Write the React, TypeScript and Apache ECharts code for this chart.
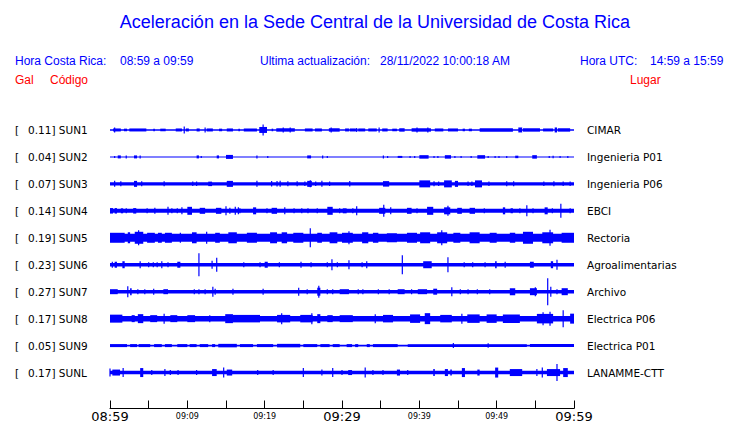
import React, { useEffect, useRef } from "react";
import * as echarts from "echarts";

// ---- data (times in minutes after 08:59, amplitudes in Gal, half-height) ----
const codes = ["SUN1", "SUN2", "SUN3", "SUN4", "SUN5", "SUN6", "SUN7", "SUN8", "SUN9", "SUNL"];
const peaks = ["0.11", "0.04", "0.07", "0.14", "0.19", "0.23", "0.27", "0.17", "0.05", "0.17"];
const places = ["CIMAR", "Ingenieria P01", "Ingenieria P06", "EBCI", "Rectoria", "Agroalimentarias", "Archivo", "Electrica P06", "Electrica P01", "LANAMME-CTT"];
const baseNoise = [0.016, 0.01, 0.034, 0.04, 0.08, 0.035, 0.035, 0.055, 0.018, 0.035];
const timeLabels = ["08:59", "09:04", "09:09", "09:14", "09:19", "09:24", "09:29", "09:34", "09:39", "09:44", "09:49", "09:54", "09:59"];
const bigLabels = ["08:59", "09:29", "09:59"];

// [start, end, amplitude]
const sun1 = [[0.4,1.4,0.03],[0.6,0.6,0.05],[1.8,2.2,0.026],[2.5,4.7,0.03],[5.6,5.8,0.026],[6.5,7.2,0.026],[8.5,9.3,0.03],[9.6,9.6,0.07],[9.8,10.2,0.03],[11.2,11.6,0.03],[12.3,12.3,0.05],[12.5,13.3,0.03],[14.1,14.5,0.026],[15.1,15.9,0.03],[16.6,16.8,0.026],[17.3,19.0,0.03],[19.3,20.3,0.06],[19.8,19.8,0.11],[20.9,21.1,0.026],[21.5,23.9,0.034],[22.4,22.4,0.05],[23.3,23.3,0.05],[25.2,26.2,0.03],[26.5,27.4,0.03],[28.3,29.7,0.034],[28.6,28.6,0.05],[30.4,30.9,0.03],[31.0,31.8,0.03],[31.9,31.9,0.04],[32.1,33.0,0.03],[33.4,34.5,0.03],[34.8,34.8,0.05],[35.2,35.9,0.03],[36.5,37.1,0.026],[37.4,38.1,0.034],[39.0,41.5,0.034],[39.7,39.7,0.05],[41.1,41.1,0.05],[42.0,43.1,0.03],[43.7,45.0,0.03],[45.6,45.9,0.026],[46.4,46.8,0.026],[47.8,52.1,0.034],[52.8,53.3,0.05],[53.4,55.6,0.034],[56.0,57.3,0.03],[57.5,57.8,0.05],[57.9,59.5,0.034]];
const sun2 = [[0.6,0.6,0.02],[1.0,1.4,0.03],[2.1,2.1,0.03],[3.1,3.5,0.03],[3.9,3.9,0.03],[11.2,11.5,0.03],[11.8,11.8,0.02],[13.8,14.1,0.03],[15.0,15.9,0.04],[19.0,19.0,0.03],[20.4,20.4,0.02],[25.5,26.0,0.03],[27.5,27.5,0.03],[28.1,28.1,0.02],[35.3,35.4,0.03],[35.9,35.9,0.02],[37.2,37.8,0.02],[38.8,38.8,0.02],[39.4,39.4,0.02],[40.0,41.2,0.035],[41.9,41.9,0.02],[42.4,42.4,0.02],[43.3,44.1,0.035],[44.6,44.6,0.02],[45.4,45.4,0.02],[46.7,46.7,0.02],[47.5,48.5,0.035],[48.9,48.9,0.02],[49.8,49.8,0.02],[50.3,50.3,0.02],[51.3,51.3,0.02],[52.4,52.8,0.025],[54.6,55.2,0.035],[56.8,56.8,0.02],[57.3,57.3,0.025],[58.2,58.2,0.02],[59.2,59.2,0.02]];
const sun3 = [[0.6,0.6,0.06],[1.4,1.4,0.05],[3.1,3.5,0.06],[4.1,4.1,0.05],[7.0,7.0,0.05],[10.7,10.7,0.045],[11.2,11.2,0.045],[12.7,13.2,0.045],[15.1,15.9,0.06],[19.0,19.0,0.06],[20.9,20.9,0.055],[21.6,21.6,0.055],[22.0,22.0,0.06],[23.0,23.0,0.05],[24.2,24.2,0.05],[25.2,25.2,0.045],[25.5,26.1,0.06],[25.9,25.9,0.07],[26.6,26.6,0.045],[27.4,27.4,0.06],[28.4,28.4,0.045],[31.0,31.0,0.055],[35.3,36.1,0.055],[40.0,41.4,0.07],[41.9,41.9,0.05],[42.5,42.5,0.045],[43.2,44.2,0.07],[44.6,45.0,0.06],[46.3,46.3,0.045],[46.8,46.8,0.045],[47.2,48.1,0.07],[49.0,49.0,0.045],[51.3,51.3,0.05],[52.2,52.2,0.05],[56.1,56.1,0.045],[57.4,57.4,0.05],[58.6,58.6,0.045],[59.5,59.5,0.045]];
const sun4 = [[0,0.4,0.055],[0.6,0.9,0.055],[1.4,1.7,0.05],[2.1,2.1,0.05],[3.0,3.4,0.055],[4.8,4.8,0.05],[5.8,5.8,0.06],[7.5,7.5,0.08],[8.0,8.0,0.05],[8.7,8.7,0.05],[9.3,9.3,0.07],[10.0,10.6,0.08],[11.6,12.3,0.06],[13.7,14.4,0.06],[15.0,15.0,0.09],[15.5,15.5,0.06],[16.2,16.2,0.08],[16.6,16.6,0.07],[16.8,16.8,0.05],[18.5,18.9,0.07],[20.3,20.3,0.05],[20.9,21.6,0.06],[22.6,22.6,0.07],[23.8,23.8,0.05],[24.8,24.8,0.05],[25.6,25.6,0.05],[26.8,26.8,0.05],[28.1,28.8,0.08],[29.7,29.7,0.05],[30.1,30.6,0.05],[31.4,31.4,0.05],[31.9,31.9,0.09],[34.8,35.6,0.06],[35.4,35.4,0.12],[36.3,36.3,0.07],[38.4,39.0,0.06],[39.7,39.7,0.05],[41.0,41.8,0.08],[43.2,44.0,0.07],[43.7,43.7,0.1],[44.9,45.5,0.06],[46.5,47.2,0.06],[48.4,48.4,0.05],[50.8,51.1,0.07],[51.8,52.1,0.05],[53.0,53.0,0.05],[53.9,53.9,0.11],[54.7,54.7,0.05],[56.2,56.6,0.07],[57.2,57.2,0.05],[58.3,58.3,0.14],[59.5,59.5,0.05]];
const sun5 = [[0,1.9,0.1],[2.3,2.6,0.11],[3.2,4.3,0.12],[3.7,3.7,0.15],[4.8,5.8,0.1],[6.2,6.7,0.1],[7.1,8.0,0.1],[9.1,9.1,0.1],[10.6,11.2,0.11],[12.5,12.5,0.12],[13.6,14.2,0.1],[15.3,16.4,0.11],[17.7,19.0,0.1],[20.7,21.6,0.11],[22.2,22.9,0.11],[23.7,25.0,0.1],[25.9,25.9,0.19],[26.8,27.4,0.1],[28.4,29.4,0.11],[30.0,31.4,0.1],[30.9,30.9,0.13],[32.6,33.4,0.11],[34.0,34.7,0.1],[35.8,37.1,0.09],[38.4,39.7,0.1],[40.1,41.4,0.11],[42.3,43.6,0.11],[42.9,42.9,0.15],[44.4,45.3,0.1],[46.5,47.8,0.11],[49.1,50.0,0.1],[51.7,52.4,0.1],[53.4,54.7,0.12],[55.9,57.3,0.11],[56.9,56.9,0.16],[58.4,60.0,0.1]];
const sun6 = [[0.3,0.3,0.06],[0.6,0.9,0.06],[1.6,1.9,0.07],[3.9,3.9,0.07],[5.0,5.0,0.05],[5.6,5.6,0.05],[6.1,6.1,0.05],[6.7,6.7,0.07],[7.5,7.5,0.05],[8.7,9.1,0.06],[11.5,11.5,0.23],[13.2,13.2,0.08],[13.8,13.8,0.14],[17.3,17.3,0.05],[19.4,19.4,0.05],[20.0,20.4,0.06],[21.9,21.9,0.05],[24.7,24.7,0.06],[26.0,26.0,0.05],[28.1,28.1,0.05],[28.7,28.7,0.11],[29.4,29.4,0.05],[30.9,30.9,0.09],[32.6,32.6,0.05],[33.2,33.2,0.07],[37.8,37.8,0.19],[40.5,41.6,0.07],[43.7,43.7,0.15],[45.8,45.8,0.05],[46.9,46.9,0.05],[48.5,48.5,0.05],[49.8,50.0,0.07],[51.1,51.1,0.06],[54.3,54.8,0.06],[57.0,57.3,0.07],[57.8,57.8,0.1]];
const sun7 = [[0,1.0,0.05],[2.3,2.3,0.11],[2.6,2.8,0.07],[3.6,3.6,0.05],[4.5,4.5,0.05],[5.6,5.7,0.06],[6.9,7.5,0.05],[10.9,10.9,0.05],[11.5,11.5,0.05],[12.3,12.3,0.05],[13.3,13.3,0.1],[13.6,13.6,0.06],[15.9,15.9,0.06],[19.8,19.8,0.06],[24.4,24.4,0.08],[25.5,25.5,0.05],[26.8,27.2,0.08],[27.0,27.0,0.12],[28.1,28.1,0.05],[28.8,28.8,0.05],[29.7,30.9,0.05],[32.1,32.1,0.05],[32.7,32.7,0.05],[34.7,34.7,0.05],[36.1,36.1,0.05],[37.2,38.1,0.05],[39.0,39.0,0.05],[39.8,41.0,0.05],[41.8,42.3,0.06],[44.2,44.2,0.09],[45.3,45.3,0.05],[46.3,46.3,0.05],[47.5,47.5,0.05],[49.1,49.1,0.05],[51.7,52.4,0.07],[54.3,55.2,0.07],[55.0,55.0,0.09],[56.6,56.6,0.27],[57.0,57.0,0.1],[57.8,57.8,0.05],[58.4,59.2,0.07]];
const sun8 = [[0,1.6,0.08],[2.8,3.2,0.07],[3.6,4.3,0.09],[5.2,6.1,0.07],[7.0,7.0,0.1],[7.8,8.7,0.07],[10.0,11.0,0.07],[12.9,12.9,0.07],[14.9,15.9,0.09],[15.9,19.4,0.075],[21.6,23.3,0.075],[22.2,22.2,0.11],[24.6,26.2,0.075],[26.1,26.1,0.11],[26.8,27.2,0.09],[28.1,28.8,0.07],[29.7,31.4,0.07],[34.3,34.3,0.09],[35.3,36.6,0.075],[38.8,40.1,0.085],[40.7,41.4,0.11],[42.7,44.2,0.075],[45.5,45.5,0.1],[46.2,47.8,0.085],[48.7,50.0,0.085],[50.8,53.0,0.085],[55.2,57.3,0.095],[56.0,56.0,0.13],[56.9,56.9,0.14],[58.6,58.6,0.17],[59.5,60.0,0.1]];
const sun9 = [[0,2.2,0.03],[2.6,3.5,0.03],[3.7,5.2,0.03],[5.7,6.7,0.03],[7.1,8.0,0.03],[8.7,10.0,0.03],[10.3,11.2,0.03],[11.6,12.7,0.03],[13.2,13.6,0.03],[14.0,16.4,0.035],[16.8,18.5,0.03],[19.0,21.1,0.03],[21.6,24.6,0.035],[25.0,26.8,0.03],[27.2,28.4,0.03],[28.8,29.7,0.03],[30.6,31.3,0.03],[31.7,32.1,0.03],[33.2,33.6,0.03],[34.0,37.2,0.03],[38.5,53.9,0.028],[44.4,44.4,0.05],[48.9,48.9,0.045],[54.3,60.0,0.03]];
const sunl = [[0.0,0.0,0.08],[0.3,1.3,0.06],[1.7,1.7,0.09],[3.9,4.3,0.09],[5.4,5.4,0.05],[7.1,7.1,0.07],[7.8,7.8,0.05],[8.8,8.8,0.05],[11.2,11.2,0.05],[13.2,13.8,0.07],[14.7,14.7,0.1],[15.1,15.8,0.06],[19.1,19.1,0.05],[21.1,21.1,0.05],[25.0,25.0,0.09],[27.4,27.4,0.06],[28.8,28.8,0.09],[30.0,30.0,0.05],[30.8,31.3,0.05],[33.0,33.0,0.1],[34.0,34.0,0.05],[35.3,35.3,0.05],[37.1,37.5,0.06],[38.5,38.5,0.05],[41.8,42.0,0.07],[43.3,43.7,0.07],[44.0,44.2,0.06],[45.5,45.9,0.09],[47.5,47.8,0.06],[49.8,50.2,0.1],[51.7,53.3,0.07],[55.2,55.2,0.07],[55.9,55.9,0.1],[56.5,58.2,0.07],[57.8,57.8,0.17],[58.6,59.2,0.09]];
const traces = [sun1, sun2, sun3, sun4, sun5, sun6, sun7, sun8, sun9, sunl];

const ROW_GAL = 0.54; // vertical spacing between traces, in Gal
const BLUE = "#0000ff";
const RED = "#ff0000";

export default function App() {
  const ref = useRef<HTMLDivElement>(null);
  useEffect(() => {
    if (!ref.current) return;
    const chart = echarts.init(ref.current, null, { renderer: "svg" });

    const renderItem = (_params: any, api: any) => {
      const row = api.value(3);
      const off = -row * ROW_GAL;
      const a = api.value(2);
      const p0 = api.coord([api.value(0), off + a]);
      const p1 = api.coord([api.value(1), off - a]);
      let x = p0[0];
      let w = p1[0] - p0[0];
      if (w < 1.2) {
        x = (p0[0] + p1[0]) / 2 - 0.6;
        w = 1.2;
      }
      return {
        type: "rect",
        shape: { x, y: p0[1], width: w, height: Math.max(p1[1] - p0[1], 1) },
        style: { fill: BLUE },
      };
    };

    const series = traces.map((ev, i) => ({
      type: "custom",
      name: codes[i],
      renderItem,
      encode: { x: [0, 1], y: 2 },
      clip: false,
      silent: true,
      data: [[0, 60, baseNoise[i], i], ...ev.map((e) => [e[0], e[1], e[2], i])],
    }));

    const txt = (text: string, x: number, y: number, fill: string, size: number, family: string, align = "left") => ({
      type: "text",
      silent: true,
      style: {
        text, x, y, fill,
        fontSize: size, fontFamily: family,
        align, verticalAlign: "middle",
        textAlign: align, textVerticalAlign: "middle",
      },
    });

    const LS = '"Liberation Sans", Arial, sans-serif';
    const DJ = '"DejaVu Sans", sans-serif';
    const graphics: any[] = [
      txt("Aceleración en la Sede Central de la Universidad de Costa Rica", 375, 22, BLUE, 18, LS, "center"),
      txt("Hora Costa Rica:", 15, 61, BLUE, 12, LS),
      txt("08:59 a 09:59", 120, 61, BLUE, 12, LS),
      txt("Ultima actualización:", 260, 61, BLUE, 12, LS),
      txt("28/11/2022 10:00:18 AM", 380, 61, BLUE, 12, LS),
      txt("Hora UTC:", 580, 61, BLUE, 12, LS),
      txt("14:59 a 15:59", 650, 61, BLUE, 12, LS),
      txt("Gal", 15, 80, RED, 12, LS),
      txt("Código", 50, 80, RED, 12, LS),
      txt("Lugar", 630, 80, RED, 12, LS),
    ];
    codes.forEach((c, i) => {
      const y = 130 + 27 * i;
      graphics.push(txt("[", 15, y, "#000", 10.5, DJ));
      graphics.push(txt(peaks[i] + "] " + c, 28, y, "#000", 10.5, DJ));
      graphics.push(txt(places[i], 587, y, "#000", 10.5, DJ));
    });

    chart.setOption({
      animation: false,
      backgroundColor: "#fff",
      grid: { left: 110, right: 166, top: 103, bottom: 14 },
      xAxis: {
        type: "value",
        min: 0,
        max: 60,
        interval: 5,
        axisLine: { show: true, onZero: false, lineStyle: { color: "#000", width: 1 } },
        axisTick: { show: true, inside: true, length: 8, lineStyle: { color: "#000" } },
        splitLine: { show: false },
        axisLabel: {
          margin: 1,
          showMinLabel: true,
          showMaxLabel: true,
          formatter: (v: number) => {
            const idx = Math.round(v / 5);
            if (idx % 2 !== 0) return "";
            const lab = timeLabels[idx];
            return bigLabels.includes(lab) ? `{b|${lab}}` : `{s|${lab}}`;
          },
          rich: {
            b: { fontSize: 13, lineHeight: 14, fontFamily: DJ, color: "#000" },
            s: { fontSize: 8, lineHeight: 14, fontFamily: DJ, color: "#000" },
          },
        },
      },
      yAxis: {
        type: "value",
        min: -5.58,
        max: 0.54,
        show: false,
      },
      series,
      graphic: graphics,
    });
    return () => chart.dispose();
  }, []);
  return <div ref={ref} style={{ position: "absolute", left: 0, top: 0, width: 740, height: 423 }} />;
}
